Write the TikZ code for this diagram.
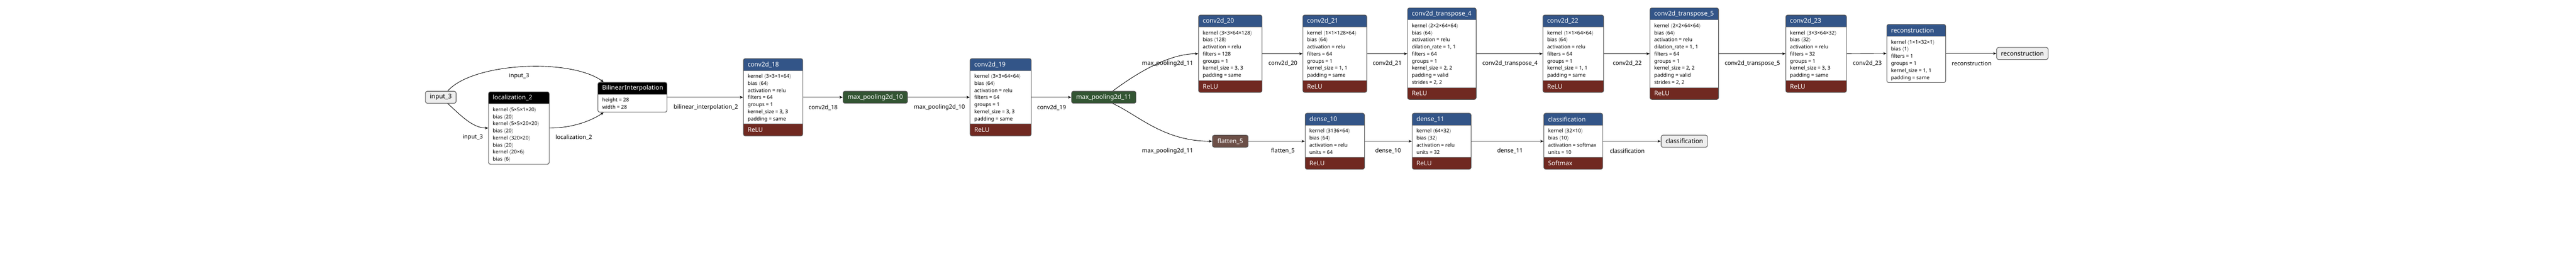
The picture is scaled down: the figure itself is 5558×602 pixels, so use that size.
\documentclass[tikz,border=0pt]{standalone}
\usepackage{fontspec}
\setmainfont{Noto Sans}
\usetikzlibrary{arrows.meta}
\definecolor{layerblue}{HTML}{335588}
\definecolor{actbrown}{HTML}{702921}
\definecolor{poolgreen}{HTML}{335533}
\definecolor{shapebrown}{HTML}{6C4F47}
\definecolor{iofill}{HTML}{EEEEEE}
\definecolor{border}{HTML}{555555}
\newcommand\hdfont{\fontsize{13.5}{16}\selectfont}
\newcommand\bdfont{\fontsize{11}{14}\selectfont}
\newcommand\edfont{\fontsize{12.5}{15}\selectfont}
\newcommand\kb[2]{\textbf{#1}~$\langle$#2$\rangle$}
\tikzset{
  edge/.style={draw=black, line width=1pt, -{Stealth[length=7pt, width=5.5pt, inset=2pt]}},
  edgeg/.style={draw=border, line width=1.6pt, -{Stealth[length=7pt, width=5.5pt, inset=2pt, color=black]}},
  elabel/.style={font=\edfont, inner sep=0},
  ionode/.style={draw=border, line width=1.2pt, fill=iofill, rounded corners=4pt, minimum height=26pt, inner sep=0, font=\hdfont},
  opnode/.style={draw=border, line width=1.2pt, rounded corners=4pt, minimum height=26pt, inner sep=0, font=\hdfont, text=white},
  sepline/.style={draw=border!70, line width=0.8pt},
  boxframe/.style={draw=border, line width=1.2pt, rounded corners=4pt, inner sep=0}
}
% name, left, right, centre y, number of lines, header colour, title, lines, footer
\newcommand\lbox[9]{%
  \pgfmathsetmacro\Lbody{(#5-1)*15.33+23}%
  \ifx&#9&\pgfmathsetmacro\Lfoot{0}\else\pgfmathsetmacro\Lfoot{26}\fi
  \pgfmathsetmacro\Ltot{26+\Lbody+\Lfoot}%
  \pgfmathsetmacro\Ltop{#4-\Ltot/2}%
  \pgfmathsetmacro\Lhb{\Ltop+26}%
  \pgfmathsetmacro\Lbb{\Lhb+\Lbody}%
  \pgfmathsetmacro\Lbot{\Ltop+\Ltot}%
  \pgfmathsetmacro\Lw{#3-#2}%
  \begin{scope}
    \clip[rounded corners=4pt] (#2,\Ltop) rectangle (#3,\Lbot);
    \fill[#6] (#2,\Ltop) rectangle (#3,\Lhb);
    \fill[white] (#2,\Lhb) rectangle (#3,\Lbb);
    \ifx&#9&\else\fill[actbrown] (#2,\Lbb) rectangle (#3,\Lbot);\fi
  \end{scope}
  \draw[sepline] (#2,\Lhb) -- (#3,\Lhb);
  \ifx&#9&\else\draw[sepline] (#2,\Lbb) -- (#3,\Lbb);\fi
  \node[boxframe, minimum width=\Lw pt, minimum height=\Ltot pt] (#1) at ({(#2+#3)/2},#4) {};
  \node[anchor=west, inner sep=0, text=white, font=\hdfont] (#1-t) at ({#2+9},{\Ltop+13}) {#7};
  \foreach \bline [count=\bidx] in {#8} {
    \node[anchor=base west, inner sep=0, font=\bdfont] (#1-l\bidx) at ({#2+9},{\Lhb+16+(\bidx-1)*15.33}) {\bline};
  }
  \ifx&#9&\else\node[anchor=west, inner sep=0, text=white, font=\hdfont] (#1-f) at ({#2+9},{\Lbb+13}) {#9};\fi
}
\begin{document}
\begin{tikzpicture}[x=1pt,y=-1pt]
\fill[white] (0,0) rectangle (5558,602);
\useasboundingbox (0,0) rectangle (5558,602);

% simple nodes
\node[ionode, minimum width=66pt] (in3) at (951,210) {input\_3};
\node[opnode, fill=poolgreen, minimum width=139pt] (mp10) at (1888.5,210) {max\_pooling2d\_10};
\node[opnode, fill=poolgreen, minimum width=139pt] (mp11) at (2381.5,210) {max\_pooling2d\_11};
\node[opnode, fill=shapebrown, minimum width=77pt] (fl5) at (2654.5,305) {flatten\_5};
\node[ionode, minimum width=100pt] (clsout) at (3634,305) {classification};
\node[ionode, minimum width=111pt] (recout) at (4363.5,115.5) {reconstruction};

% layer boxes
\lbox{loc}{1054}{1185}{276.5}{8}{black}{localization\_2}{{\kb{kernel}{5×5×1×20}},{\kb{bias}{20}},{\kb{kernel}{5×5×20×20}},{\kb{bias}{20}},{\kb{kernel}{320×20}},{\kb{bias}{20}},{\kb{kernel}{20×6}},{\kb{bias}{6}}}{}
\lbox{bi}{1290}{1439}{210}{2}{black}{BilinearInterpolation}{{height = 28},{width = 28}}{}
\lbox{c18}{1604}{1732}{210}{7}{layerblue}{conv2d\_18}{{\kb{kernel}{3×3×1×64}},{\kb{bias}{64}},{activation = relu},{filters = 64},{groups = 1},{kernel\_size = 3, 3},{padding = same}}{ReLU}
\lbox{c19}{2093}{2225}{210}{7}{layerblue}{conv2d\_19}{{\kb{kernel}{3×3×64×64}},{\kb{bias}{64}},{activation = relu},{filters = 64},{groups = 1},{kernel\_size = 3, 3},{padding = same}}{ReLU}
\lbox{c20}{2586}{2723}{116}{7}{layerblue}{conv2d\_20}{{\kb{kernel}{3×3×64×128}},{\kb{bias}{128}},{activation = relu},{filters = 128},{groups = 1},{kernel\_size = 3, 3},{padding = same}}{ReLU}
\lbox{c21}{2811}{2949}{116}{7}{layerblue}{conv2d\_21}{{\kb{kernel}{1×1×128×64}},{\kb{bias}{64}},{activation = relu},{filters = 64},{groups = 1},{kernel\_size = 1, 1},{padding = same}}{ReLU}
\lbox{ct4}{3037}{3185}{116}{9}{layerblue}{conv2d\_transpose\_4}{{\kb{kernel}{2×2×64×64}},{\kb{bias}{64}},{activation = relu},{dilation\_rate = 1, 1},{filters = 64},{groups = 1},{kernel\_size = 2, 2},{padding = valid},{strides = 2, 2}}{ReLU}
\lbox{c22}{3329}{3460}{116}{7}{layerblue}{conv2d\_22}{{\kb{kernel}{1×1×64×64}},{\kb{bias}{64}},{activation = relu},{filters = 64},{groups = 1},{kernel\_size = 1, 1},{padding = same}}{ReLU}
\lbox{ct5}{3560}{3708}{116}{9}{layerblue}{conv2d\_transpose\_5}{{\kb{kernel}{2×2×64×64}},{\kb{bias}{64}},{activation = relu},{dilation\_rate = 1, 1},{filters = 64},{groups = 1},{kernel\_size = 2, 2},{padding = valid},{strides = 2, 2}}{ReLU}
\lbox{c23}{3853}{3984}{116}{7}{layerblue}{conv2d\_23}{{\kb{kernel}{3×3×64×32}},{\kb{bias}{32}},{activation = relu},{filters = 32},{groups = 1},{kernel\_size = 3, 3},{padding = same}}{ReLU}
\lbox{rec}{4071}{4198}{115.5}{6}{layerblue}{reconstruction}{{\kb{kernel}{1×1×32×1}},{\kb{bias}{1}},{filters = 1},{groups = 1},{kernel\_size = 1, 1},{padding = same}}{}
\lbox{d10}{2816}{2944}{305}{4}{layerblue}{dense\_10}{{\kb{kernel}{3136×64}},{\kb{bias}{64}},{activation = relu},{units = 64}}{ReLU}
\lbox{d11}{3047}{3174}{305}{4}{layerblue}{dense\_11}{{\kb{kernel}{64×32}},{\kb{bias}{32}},{activation = relu},{units = 32}}{ReLU}
\lbox{cls}{3331}{3458}{305}{4}{layerblue}{classification}{{\kb{kernel}{32×10}},{\kb{bias}{10}},{activation = softmax},{units = 10}}{Softmax}

% connectors
\draw[edge] ([xshift=15pt]in3.north) .. controls (1020,135) and (1230,125) .. ([xshift=13pt]bi.north west);
\draw[edge] ([xshift=15pt]in3.south) .. controls (995,250) and (1020,276.5) .. (loc.west);
\draw[edge] (loc.east) .. controls (1240,276.5) and (1280,258) .. ([xshift=13pt]bi.south west);
\draw[edge] (bi.east) -- (c18.west);
\draw[edge] (c18.east) -- (mp10.west);
\draw[edge] (mp10.east) -- (c19.west);
\draw[edge] (c19.east) -- (mp11.west);
\draw[edge] ([xshift=19.5pt]mp11.north) .. controls (2450,160) and (2520,116) .. (c20.west);
\draw[edge] ([xshift=19.5pt]mp11.south) .. controls (2455,248) and (2510,305) .. (fl5.west);
\draw[edge] (c20.east) -- (c21.west);
\draw[edge] (c21.east) -- (ct4.west);
\draw[edge] (ct4.east) -- (c22.west);
\draw[edge] (c22.east) -- (ct5.west);
\draw[edge] (ct5.east) -- (c23.west);
\draw[edge] (c23.east) -- (rec.west);
\draw[edge] (rec.east) -- (recout.west);
\draw[edgeg] (fl5.east) -- (d10.west);
\draw[edgeg] (d10.east) -- (d11.west);
\draw[edgeg] (d11.east) -- (cls.west);
\draw[edgeg] (cls.east) -- (clsout.west);

% connector labels
\node[elabel] (la1) at (1120,164) {input\_3};
\node[elabel] (la2) at (1020,297) {input\_3};
\node[elabel] (la3) at (1238,297) {localization\_2};
\node[elabel] (la4) at (1523,232) {bilinear\_interpolation\_2};
\node[elabel] (la5) at (1776,232) {conv2d\_18};
\node[elabel] (la6) at (2027,232) {max\_pooling2d\_10};
\node[elabel] (la7) at (2269,232) {conv2d\_19};
\node[elabel] (la8) at (2519,137) {max\_pooling2d\_11};
\node[elabel] (la9) at (2519,326) {max\_pooling2d\_11};
\node[elabel] (la10) at (2768,137) {conv2d\_20};
\node[elabel] (la11) at (2993,137) {conv2d\_21};
\node[elabel] (la12) at (3258,137) {conv2d\_transpose\_4};
\node[elabel] (la13) at (3511,137) {conv2d\_22};
\node[elabel] (la14) at (3781,137) {conv2d\_transpose\_5};
\node[elabel] (la15) at (4029,137) {conv2d\_23};
\node[elabel] (la16) at (4254,137) {reconstruction};
\node[elabel] (la17) at (2768,326) {flatten\_5};
\node[elabel] (la18) at (2995,326) {dense\_10};
\node[elabel] (la19) at (3258,326) {dense\_11};
\node[elabel] (la20) at (3511,326) {classification};
\end{tikzpicture}
\end{document}
